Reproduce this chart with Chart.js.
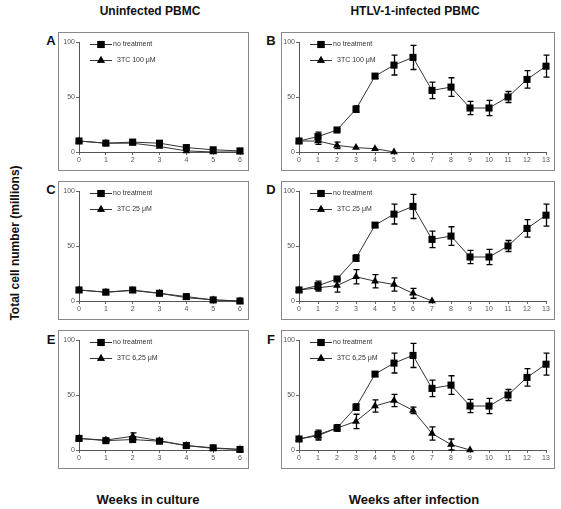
<!DOCTYPE html>
<html>
<head>
<meta charset="utf-8">
<script src="https://cdn.jsdelivr.net/npm/chart.js@4.4.1/dist/chart.umd.min.js"></script>
<style>
  body { margin: 0; background: #fff; font-family: "Liberation Sans", Arial, sans-serif; }
  #wrap { position: relative; width: 561px; height: 509px; overflow: hidden; }
  .t { position: absolute; font-weight: bold; color: #111; white-space: nowrap; transform: translate(-50%, -50%); }
  canvas { position: absolute; }
</style>
</head>
<body>
<div id="wrap">
  <div class="t" style="left:150px;top:11px;font-size:12px">Uninfected PBMC</div>
  <div class="t" style="left:415px;top:11px;font-size:12px">HTLV-1-infected PBMC</div>
  <div class="t" style="left:15px;top:243px;font-size:12px;transform:translate(-50%,-50%) rotate(-90deg)">Total cell number (millions)</div>
  <div class="t" style="left:148px;top:499px;font-size:13px">Weeks in culture</div>
  <div class="t" style="left:414px;top:499px;font-size:13px">Weeks after infection</div>

  <div class="t" style="left:51px;top:40px;font-size:13px">A</div>
  <div class="t" style="left:271px;top:40px;font-size:13px">B</div>
  <div class="t" style="left:51px;top:189px;font-size:13px">C</div>
  <div class="t" style="left:271px;top:189px;font-size:13px">D</div>
  <div class="t" style="left:51px;top:339px;font-size:13px">E</div>
  <div class="t" style="left:271px;top:339px;font-size:13px">F</div>

  <canvas id="pA" width="191" height="139" style="left:58px;top:32px"></canvas>
  <canvas id="pB" width="274" height="139" style="left:281px;top:32px"></canvas>
  <canvas id="pC" width="191" height="139" style="left:58px;top:181px"></canvas>
  <canvas id="pD" width="274" height="139" style="left:281px;top:181px"></canvas>
  <canvas id="pE" width="191" height="139" style="left:58px;top:330px"></canvas>
  <canvas id="pF" width="274" height="139" style="left:281px;top:330px"></canvas>
</div>

<script>
// weeks on the x axes
let weeksUninfected = [0, 1, 2, 3, 4, 5, 6];
let weeksInfected = [0, 1, 2, 3, 4, 5, 6, 7, 8, 9, 10, 11, 12, 13];
let yTicks = [0, 50, 100];

// A - uninfected, 3TC 100 uM
let aNoTreatment = [10, 8, 9, 8, 4, 2, 1];
let a3tc100 = [10, 8, 8, 5, 1, 0, 0];

// C - uninfected, 3TC 25 uM
let cNoTreatment = [10, 8, 10, 7, 4, 1, 0];
let c3tc25 = [10, 8, 9.5, 7, 3, 1, 0];

// E - uninfected, 3TC 6,25 uM
let eNoTreatment = [10.5, 8.5, 9.5, 8, 4, 2, 0.5];
let e3tc625 = [10.5, 9, 12.5, 8.5, 4, 1.5, 0.5];
let e3tc625Err = [0, 1, 3, 1, 0, 0, 0];

// infected, no treatment (same curve in B, D, F)
let infNoTreatment = [10, 14, 20, 39, 69, 79, 86, 56, 59, 40, 40, 50, 66, 78];
let infNoTreatmentErr = [0, 4, 1, 3, 2, 9, 11, 7.5, 8.5, 6, 7, 5, 8, 10];

// B - 3TC 100 uM
let b3tc100 = [10, 10, 6, 4, 3, 0];
let b3tc100Err = [0, 3, 3, 0, 0, 0];

// D - 3TC 25 uM
let d3tc25 = [10, 12, 14, 22, 18, 15, 7, 0];
let d3tc25Err = [0, 3, 6, 6.5, 6, 6, 4.5, 0];

// F - 3TC 6,25 uM
let f3tc625 = [10, 13, 20, 26, 40, 45, 36, 15, 5, 0];
let f3tc625Err = [0, 4, 3, 6.5, 5.5, 5.5, 3, 6, 5, 0];

const FONT = '"Liberation Sans", Arial, sans-serif';

const toPoints = (xs, ys) => ys.map((v, i) => ({ x: xs[i], y: v }));

const series = (label, weeks, values, errors, style) => ({
    label: label,
    data: toPoints(weeks, values),
    errors: errors || null,
    borderColor: '#333',
    borderWidth: 1,
    pointStyle: style,
    pointRadius: style == 'rect' ? 5 : 4.5,
    pointBackgroundColor: '#000',
    pointBorderColor: '#000',
    pointBorderWidth: 0,
    tension: 0,
    clip: false,
});

// error bars, drawn through the chart's own scales
const errorBars = {
    id: 'errorBars',
    afterDatasetsDraw(chart) {
        const ctx = chart.ctx, xs = chart.scales.x, ys = chart.scales.y;
        ctx.save();
        ctx.strokeStyle = '#000';
        ctx.lineWidth = 1.3;
        chart.data.datasets.forEach(ds => {
            if (!ds.errors) return;
            ds.data.forEach((p, i) => {
                let e = ds.errors[i];
                if (!e) return;
                let x = Math.round(xs.getPixelForValue(p.x)) + 0.5,
                    y1 = ys.getPixelForValue(p.y + e),
                    y2 = ys.getPixelForValue(Math.max(0, p.y - e));
                ctx.beginPath();
                ctx.moveTo(x, y1); ctx.lineTo(x, y2);
                ctx.moveTo(x - 3, y1); ctx.lineTo(x + 3, y1);
                ctx.moveTo(x - 3, y2); ctx.lineTo(x + 3, y2);
                ctx.stroke();
            });
        });
        ctx.restore();
    }
};

// legend inside the plot + frame round the panel
const panelDecor = {
    id: 'panelDecor',
    afterDraw(chart) {
        const ctx = chart.ctx, area = chart.chartArea;
        ctx.save();
        ctx.strokeStyle = '#888';
        ctx.lineWidth = 1;
        ctx.strokeRect(0.5, 0.5, chart.width - 1, chart.height - 1);

        chart.data.datasets.forEach((ds, i) => {
            let y = Math.round(area.top + 2 + i * 16) + 0.5,
                x1 = area.left + 11, x2 = area.left + 33;
            ctx.strokeStyle = '#333';
            ctx.lineWidth = 1;
            ctx.beginPath(); ctx.moveTo(x1, y); ctx.lineTo(x2, y); ctx.stroke();
            Chart.helpers.drawPoint(ctx, {
                pointStyle: ds.pointStyle, radius: ds.pointRadius, borderWidth: 0, rotation: 0
            }, (x1 + x2) / 2, y);
            ctx.fillStyle = '#000';
            ctx.fill();
            ctx.fillStyle = '#333';
            ctx.font = '7px ' + FONT;
            ctx.textBaseline = 'middle';
            ctx.fillText(ds.label, x2 + (i == 0 ? 1 : 5), y);
        });
        ctx.restore();
    }
};

const makePanel = (id, weeks, datasets, leftW, padRight) => {
    let xMax = weeks[weeks.length - 1];
    return new Chart(document.getElementById(id).getContext('2d'), {
        type: 'line',
        data: { datasets: datasets },
        options: {
            responsive: false,
            animation: false,
            events: [],
            layout: { padding: { left: 0, right: padRight, top: 10, bottom: 0 } },
            plugins: { legend: { display: false }, tooltip: { enabled: false } },
            scales: {
                x: {
                    type: 'linear', min: 0, max: xMax,
                    afterFit: s => { s.height = 19; },
                    afterBuildTicks: s => { s.ticks = weeks.map(v => ({ value: v })); },
                    ticks: { font: { family: FONT, size: 7 }, color: '#555', padding: 1, maxRotation: 0, autoSkip: false },
                    grid: { display: true, drawOnChartArea: false, tickLength: 3, color: '#666' },
                    border: { color: '#555' }
                },
                y: {
                    min: 0, max: 100,
                    afterFit: s => { s.width = leftW; },
                    afterBuildTicks: s => { s.ticks = yTicks.map(v => ({ value: v })); },
                    ticks: { font: { family: FONT, size: 7 }, color: '#555', padding: 1 },
                    grid: { display: true, drawOnChartArea: false, tickLength: 3, color: '#666' },
                    border: { color: '#555' }
                }
            }
        },
        plugins: [errorBars, panelDecor]
    });
};

makePanel('pA', weeksUninfected, [
    series('no treatment', weeksUninfected, aNoTreatment, null, 'rect'),
    series('3TC 100 μM', weeksUninfected, a3tc100, null, 'triangle')
], 21, 9);

makePanel('pB', weeksInfected, [
    series('no treatment', weeksInfected, infNoTreatment, infNoTreatmentErr, 'rect'),
    series('3TC 100 μM', weeksInfected, b3tc100, b3tc100Err, 'triangle')
], 18, 9);

makePanel('pC', weeksUninfected, [
    series('no treatment', weeksUninfected, cNoTreatment, null, 'rect'),
    series('3TC 25 μM', weeksUninfected, c3tc25, null, 'triangle')
], 21, 9);

makePanel('pD', weeksInfected, [
    series('no treatment', weeksInfected, infNoTreatment, infNoTreatmentErr, 'rect'),
    series('3TC 25 μM', weeksInfected, d3tc25, d3tc25Err, 'triangle')
], 18, 9);

makePanel('pE', weeksUninfected, [
    series('no treatment', weeksUninfected, eNoTreatment, null, 'rect'),
    series('3TC 6,25 μM', weeksUninfected, e3tc625, e3tc625Err, 'triangle')
], 21, 9);

makePanel('pF', weeksInfected, [
    series('no treatment', weeksInfected, infNoTreatment, infNoTreatmentErr, 'rect'),
    series('3TC 6,25 μM', weeksInfected, f3tc625, f3tc625Err, 'triangle')
], 18, 9);
</script>
</body>
</html>
